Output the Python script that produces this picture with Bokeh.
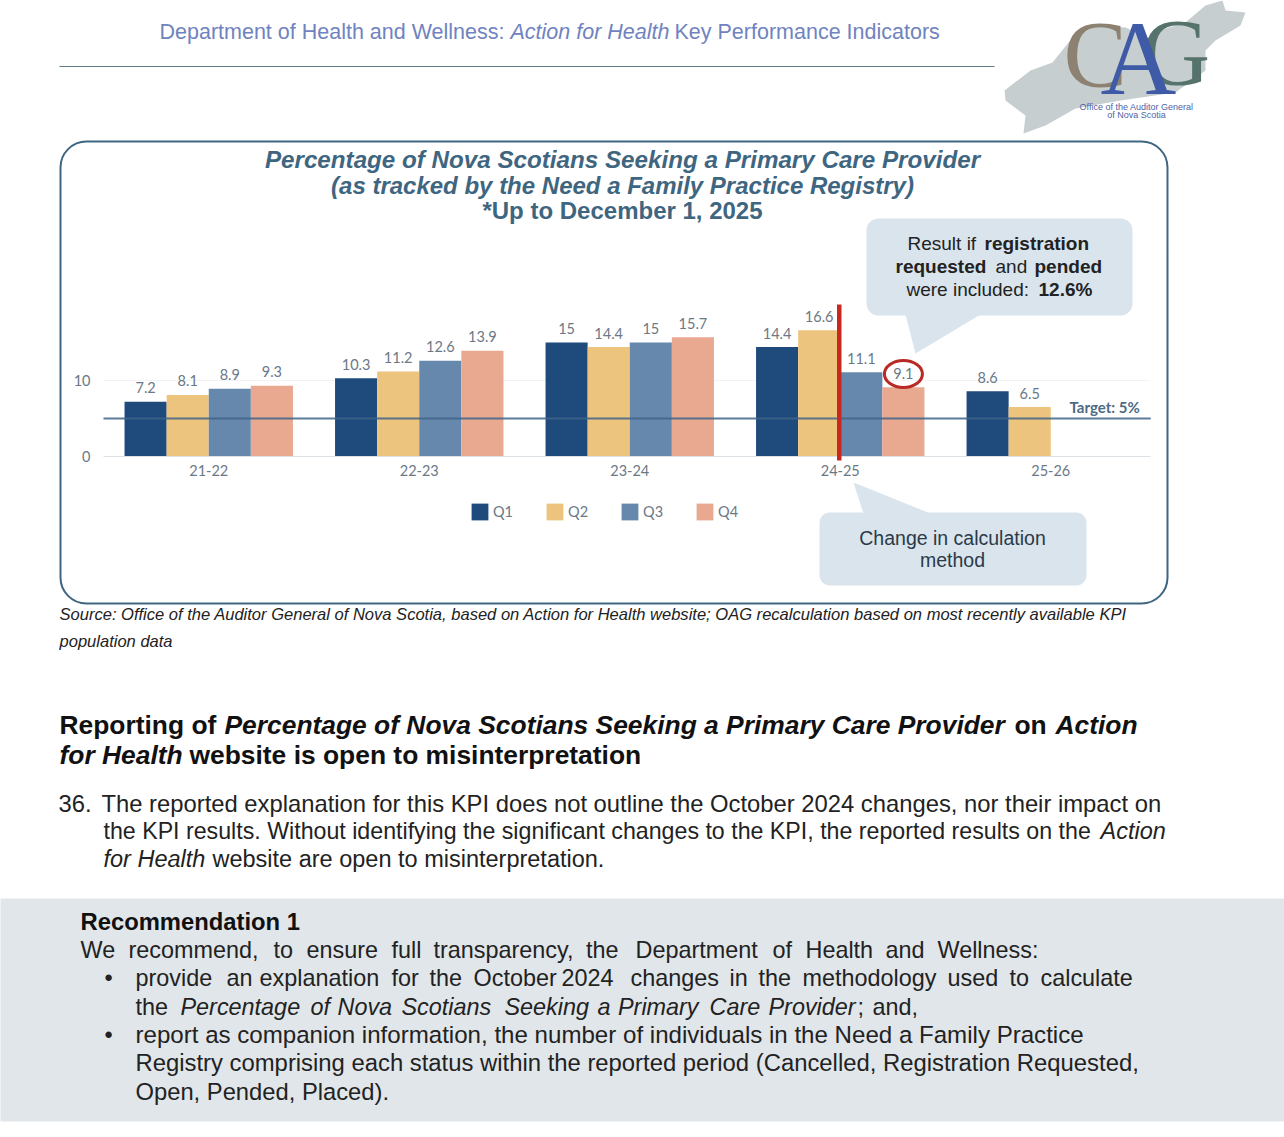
from bokeh.embed import file_html
from bokeh.resources import INLINE
from bokeh.plotting import figure
from bokeh.models import (ColumnDataSource, Range1d, Label, BoxAnnotation, PolyAnnotation,
                          FixedTicker, Legend, LegendItem, LinearAxis)
from bokeh.core.properties import value

years = ["21-22", "22-23", "23-24", "24-25", "25-26"]
q1 = [7.2, 10.3, 15, 14.4, 8.6]
q2 = [8.1, 11.2, 14.4, 16.6, 6.5]
q3 = [8.9, 12.6, 15, 11.1]
q4 = [9.3, 13.9, 15.7, 9.1]
target = 5
series_names = ["Q1", "Q2", "Q3", "Q4"]
series_values = [q1, q2, q3, q4]
series_colors = ["#1f4a7c", "#edc47e", "#6788ad", "#e8a990"]
y_ticks = [0, 10]

W, H = 1284, 1137
X0, UNIT = 103, 210.5    # left edge of the plot band, pixels per year group
Y0, YPX = 456, 7.6       # baseline, pixels per percentage point
XL, XR = -0.5, 4.475     # horizontal extent of the axis and target line, in year groups
CH = "Lato"
BODY = "Liberation Sans"
AXC = "#6b7886"

p = figure(width=W, height=H, output_backend="svg", toolbar_location=None,
           x_range=Range1d(-0.5 - X0 / UNIT, -0.5 + (W - X0) / UNIT),
           y_range=Range1d((Y0 - H) / YPX, Y0 / YPX),
           x_axis_type=None, y_axis_type=None,
           min_border_left=0, min_border_right=0, min_border_top=0, min_border_bottom=0)
p.outline_line_color = None
p.background_fill_color = None
p.border_fill_color = "white"
p.grid.visible = False

xpos = list(range(len(years)))
xaxis = LinearAxis(fixed_location=0, bounds=(XL, XR),
                   ticker=FixedTicker(ticks=xpos),
                   major_label_overrides={i: y for i, y in zip(xpos, years)},
                   axis_line_color="#dde2e7", major_tick_line_color=None, minor_tick_line_color=None,
                   major_label_text_font=CH, major_label_text_font_size="14.5px",
                   major_label_text_color=AXC, major_label_standoff=2)
p.add_layout(xaxis, "below")
yaxis = LinearAxis(fixed_location=XL, bounds=(0, 10),
                   ticker=FixedTicker(ticks=y_ticks),
                   axis_line_color=None, major_tick_line_color=None, minor_tick_line_color=None,
                   major_label_text_font=CH, major_label_text_font_size="14.5px",
                   major_label_text_color=AXC, major_label_standoff=7)
p.add_layout(yaxis, "left")


def sy(y):
    return H - y


def box(l, t, r, b, fill=None, line=None, lw=1, radius=0, level="underlay"):
    p.add_layout(BoxAnnotation(left=l, right=r, top=sy(t), bottom=sy(b),
                               left_units="screen", right_units="screen", top_units="screen", bottom_units="screen",
                               fill_color=fill, fill_alpha=1 if fill else 0,
                               line_color=line, line_width=lw, line_alpha=1 if line else 0,
                               border_radius=radius, level=level, editable=False))


def poly(pts, fill, level="underlay"):
    p.add_layout(PolyAnnotation(xs=[x for x, _ in pts], ys=[sy(y) for _, y in pts],
                                xs_units="screen", ys_units="screen",
                                fill_color=fill, fill_alpha=1, line_color=None, level=level))


def txt(x, y, s, size, color="#222222", style="normal", align="left", font=BODY):
    # y is the wanted baseline in page pixels; alphabetic labels draw about a third of an em low
    p.add_layout(Label(x=x, y=sy(y - 0.34 * size), x_units="screen", y_units="screen", text=s,
                       text_font=font, text_font_size=f"{size}px", text_font_style=style,
                       text_color=color, text_align=align, text_baseline="alphabetic", level="annotation"))


def words(y, placed, size, color="#222222", style="normal"):
    for x, w in placed:
        txt(x, y, w, size, color, style)


# page furniture
box(-2, 898, 1286, 1121, fill="#e1e6ea")
box(59, 65.5, 994, 66.5, fill="#5f7d88")
box(60, 141, 1167, 603, line="#3f6680", lw=2, radius=26)
poly([(1004, 90), (1030, 70), (1052, 62), (1068, 42), (1095, 25), (1125, 27), (1150, 38), (1165, 28),
      (1185, 22), (1205, 5), (1222, 0), (1225, 10), (1245, 12), (1240, 25), (1215, 40), (1205, 50),
      (1205, 70), (1175, 92), (1120, 100), (1075, 108), (1045, 125), (1023, 133), (1025, 115), (1005, 100)],
     "#c6ced0")

# callouts
CALL = "#d9e4ed"
box(866, 218, 1132, 315, fill=CALL, radius=12)
poly([(905, 314), (915, 353), (980, 314)], CALL)
box(819, 512, 1086, 585, fill=CALL, radius=10)
poly([(853, 482), (863, 513), (930, 513)], CALL)

# bars
bar_w, offsets = 0.2, [-0.3, -0.1, 0.1, 0.3]
items = []
for name, vals, col, off in zip(series_names, series_values, series_colors, offsets):
    src = ColumnDataSource(dict(x=[i + off for i in xpos[:len(vals)]], v=vals, t=[f"{v:g}" for v in vals]))
    r = p.vbar(x="x", top="v", width=bar_w, source=src, fill_color=col, line_color=None)
    items.append(LegendItem(label=name, renderers=[r]))
    p.text(x="x", y="v", text="t", source=src,
           text_font=value(CH), text_font_size="14.5px", text_color=AXC,
           text_align="center", text_baseline="alphabetic", y_offset=-14)

p.segment(x0=[XL], x1=[XR], y0=[target], y1=[target], line_color="#3f6489", line_width=2, line_alpha=0.85)
p.segment(x0=[XL], x1=[XR], y0=[y_ticks[1]], y1=[y_ticks[1]], line_color="#f1f3f5", level="underlay")
box(836.5, 304, 841, 460, fill="#c9281f", level="annotation")
src_c = ColumnDataSource(dict(x=[3 + offsets[3]], v=[q4[3] + 1.75]))
p.ellipse(x="x", y="v", width=38, height=27, width_units="screen", height_units="screen", source=src_c,
          fill_color=None, line_color="#b92a25", line_width=3)

legend = Legend(items=items, orientation="horizontal", location=(469, sy(522)),
                glyph_width=21, glyph_height=21, label_standoff=3, spacing=31, padding=0, margin=0,
                border_line_color=None, background_fill_alpha=0,
                label_text_font=CH, label_text_font_size="14.5px", label_text_color=AXC,
                label_height=21, label_width=15)
p.add_layout(legend, "center")

txt(1069, 412, "Target: 5%", 15, "#4d6a85", "bold", font=CH)

# header
HC = "#7083c0"
txt(159, 39, "Department of Health and Wellness:", 21.5, HC)
txt(510, 39, "Action for Health", 21.5, HC, "italic")
txt(674, 39, "Key Performance Indicators", 21.5, HC)

# logo
txt(1063, 87, "C", 95, "#8d8272", font="Liberation Serif")
txt(1141, 85, "G", 95, "#55736b", font="Liberation Serif")
txt(1100, 94, "A", 105, "#3f5aa6", font="Liberation Serif")
txt(1136, 110, "Office of the Auditor General", 9, "#4f63a8", align="center")
txt(1136, 118, "of Nova Scotia", 9, "#4f63a8", align="center")

# title
TC = "#3f6680"
txt(622, 167.5, "Percentage of Nova Scotians Seeking a Primary Care Provider", 24.2, TC, "bold italic", "center")
txt(622, 193.5, "(as tracked by the Need a Family Practice Registry)", 24, TC, "bold italic", "center")
txt(622, 218.5, "*Up to December 1, 2025", 24, TC, "bold", "center")

# callout texts
K = "#222222"
txt(907, 249, "Result if", 19, K)
txt(984, 249, "registration", 19, K, "bold")
txt(895, 272, "requested", 19, K, "bold")
txt(995, 272, "and", 19, K)
txt(1034, 272, "pended", 19, K, "bold")
txt(906, 295, "were included:", 19, K)
txt(1038, 295, "12.6%", 19, K, "bold")
txt(952, 544, "Change in calculation", 19.5, "#2b3a48", align="center")
txt(952, 566, "method", 19.5, "#2b3a48", align="center")

# source
txt(59, 620, "Source: Office of the Auditor General of Nova Scotia, based on Action for Health website; OAG recalculation based on most recently available KPI", 16.55, K, "italic")
txt(59, 647, "population data", 16.55, K, "italic")

# heading
HD = "#111111"
txt(59, 733, "Reporting of", 26.4, HD, "bold")
txt(224, 733, "Percentage of Nova Scotians Seeking a Primary Care Provider", 26.4, HD, "bold italic")
txt(1014, 733, "on", 26.4, HD, "bold")
txt(1055, 733, "Action", 26.4, HD, "bold italic")
txt(59, 763, "for Health", 26.4, HD, "bold italic")
txt(189, 763, "website is open to misinterpretation", 26.4, HD, "bold")

# paragraph
txt(58, 811, "36.", 23.8, K)
txt(101, 811, "The reported explanation for this KPI does not outline the October 2024 changes, nor their impact on", 23.8, K)
txt(103, 838, "the KPI results. Without identifying the significant changes to the KPI, the reported results on the", 23.2, K)
txt(1100, 838, "Action", 23.5, K, "italic")
txt(103, 866, "for Health", 23.5, K, "italic")
txt(212, 866, "website are open to misinterpretation.", 23.5, K)

# recommendation
B = 23.4
txt(80, 929, "Recommendation 1", 23.8, HD, "bold")
words(957, [(80, "We"), (128, "recommend,"), (273, "to"), (306, "ensure"), (391, "full"), (433, "transparency,"),
            (585.5, "the"), (635, "Department"), (772, "of"), (805, "Health"), (885, "and"), (937, "Wellness:")], B, K)
txt(104, 985, "•", B, K)
words(985, [(135, "provide"), (226, "an"), (259, "explanation"), (391, "for"), (429, "the"), (473, "October"),
            (561, "2024"), (630, "changes"), (729, "in"), (758, "the"), (802, "methodology"), (947, "used"),
            (1009, "to"), (1040, "calculate")], B, K)
txt(135, 1014, "the", B, K)
words(1014, [(180, "Percentage"), (310, "of"), (337, "Nova"), (401, "Scotians"), (504, "Seeking"), (597, "a"),
             (617.5, "Primary"), (709, "Care"), (768, "Provider")], B, K, "italic")
txt(857, 1014, ";", B, K)
txt(872, 1014, "and,", B, K)
txt(104, 1042, "•", B, K)
txt(135, 1042, "report as companion information, the number of individuals in the Need a Family Practice", 24.1, K)
txt(135, 1070, "Registry comprising each status within the reported period (Cancelled, Registration Requested,", 23.85, K)
txt(135, 1099, "Open, Pended, Placed).", 23.75, K)

open("out.html", "w").write(file_html(p, INLINE))
